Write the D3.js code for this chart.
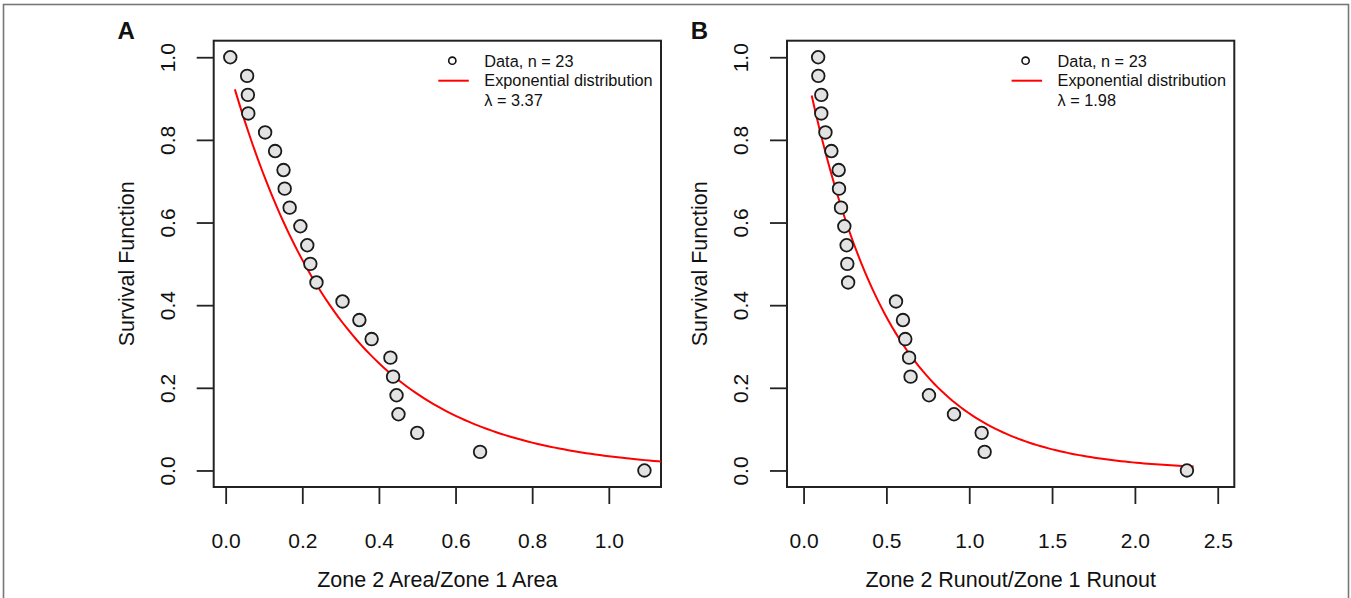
<!DOCTYPE html>
<html>
<head>
<meta charset="utf-8">
<script src="https://cdn.jsdelivr.net/npm/d3@7"></script>
<style>
  body { margin: 0; background: #fff; }
  svg text { font-family: "Liberation Sans", Arial, sans-serif; fill: #111; }
</style>
</head>
<body>
<div class="graph"></div>
<script>
// survival values shared by both panels (n = 23)
var survival = [1.000, 0.955, 0.909, 0.864, 0.818, 0.773, 0.727, 0.682, 0.636, 0.591, 0.545, 0.500,
                0.455, 0.409, 0.364, 0.318, 0.273, 0.227, 0.182, 0.136, 0.091, 0.045, 0.000];

// panel A: Zone 2 Area / Zone 1 Area
var areaRatio = [0.012, 0.056, 0.058, 0.059, 0.103, 0.129, 0.151, 0.154, 0.167, 0.195, 0.213, 0.221,
                 0.237, 0.305, 0.349, 0.381, 0.430, 0.437, 0.446, 0.451, 0.500, 0.664, 1.093];
// panel B: Zone 2 Runout / Zone 1 Runout
var runoutRatio = [0.088, 0.089, 0.107, 0.107, 0.132, 0.168, 0.212, 0.214, 0.226, 0.246, 0.260, 0.264,
                   0.269, 0.558, 0.600, 0.614, 0.637, 0.646, 0.757, 0.908, 1.075, 1.093, 2.314];

var panelLetters = ["A", "B"];
var xTitles = ["Zone 2 Area/Zone 1 Area", "Zone 2 Runout/Zone 1 Runout"];
var yTitle = "Survival Function";
var lambdas = [3.37, 1.98];
var curveFrom = [0.024, 0.049];
var curveTo = [1.2, 2.355];
var xLimits = [null, [0, 2.5]];   // null -> range of data (like R)
var xTicksA = [0, 0.2, 0.4, 0.6, 0.8, 1.0];
var xTicksB = [0, 0.5, 1.0, 1.5, 2.0, 2.5];
var yTicks = [0, 0.2, 0.4, 0.6, 0.8, 1.0];
var legendLabels = ["Data, n = 23", "Exponential distribution"];

var NS = {};
NS.width = 1351;
NS.height = 598;
// plot boxes, in pixels
NS.boxes = [
  {left: 213.7, right: 661, top: 40.7, bottom: 487},
  {left: 787, right: 1234.3, top: 40.7, bottom: 487}
];

function makeSVG() {
  NS.svg = d3.select(".graph")
        .append("svg")
        .attr("width", NS.width)
        .attr("height", NS.height);
  NS.svg.append("defs");
  // grey frame round the figure
  NS.svg.append("rect")
      .attr("x", 3.5).attr("y", 4.5)
      .attr("width", 1345).attr("height", 620)
      .attr("fill", "none")
      .attr("stroke", "#777")
      .attr("stroke-width", 1.6);
}

// R style 4% padding
function pad(dom) {
  var d = (dom[1] - dom[0]) * 0.04;
  return [dom[0] - d, dom[1] + d];
}

function drawPanel(i, xs, xTicks) {
  var box = NS.boxes[i];
  var g = NS.svg.append("g").attr("class", "panel" + i);

  var xDom = xLimits[i] ? xLimits[i] : d3.extent(xs);
  var x = d3.scaleLinear().domain(pad(xDom)).range([box.left, box.right]);
  var y = d3.scaleLinear().domain(pad([0, 1])).range([box.bottom, box.top]);

  NS.svg.select("defs").append("clipPath")
      .attr("id", "clip" + i)
    .append("rect")
      .attr("x", box.left).attr("y", box.top)
      .attr("width", box.right - box.left)
      .attr("height", box.bottom - box.top);

  // axes
  var xAxis = d3.axisBottom(x).tickValues(xTicks).tickSize(17).tickPadding(36)
      .tickFormat(d3.format(".1f"));
  var gx = g.append("g")
      .attr("transform", "translate(0," + box.bottom + ")")
      .call(xAxis);
  gx.select(".domain").remove();
  gx.selectAll("line").attr("stroke", "#222").attr("stroke-width", 1.8);
  gx.selectAll("text").attr("font-size", 21).attr("fill", "#111")
      .attr("font-family", "Liberation Sans, Arial, sans-serif")
      .attr("y", 0).attr("dy", null)
      .attr("transform", "translate(0,61)");

  var yAxis = d3.axisLeft(y).tickValues(yTicks).tickSize(17).tickFormat(d3.format(".1f"));
  var gy = g.append("g")
      .attr("transform", "translate(" + box.left + ",0)")
      .call(yAxis);
  gy.select(".domain").remove();
  gy.selectAll("line").attr("stroke", "#222").attr("stroke-width", 1.8);
  gy.selectAll("text")
      .attr("font-size", 21).attr("fill", "#111")
      .attr("font-family", "Liberation Sans, Arial, sans-serif")
      .attr("x", null).attr("dy", null)
      .attr("text-anchor", "middle")
      .attr("transform", "translate(-39,0) rotate(-90)");

  // box
  g.append("rect")
      .attr("x", box.left).attr("y", box.top)
      .attr("width", box.right - box.left)
      .attr("height", box.bottom - box.top)
      .attr("fill", "none")
      .attr("stroke", "#222")
      .attr("stroke-width", 2);

  // titles
  g.append("text")
      .attr("x", (box.left + box.right) / 2)
      .attr("y", 586.5)
      .attr("text-anchor", "middle")
      .attr("font-size", 21.5)
      .text(xTitles[i]);
  g.append("text")
      .attr("transform", "translate(" + (box.left - 80) + "," + ((box.top + box.bottom) / 2) + ") rotate(-90)")
      .attr("text-anchor", "middle")
      .attr("font-size", 21.5)
      .text(yTitle);
  g.append("text")
      .attr("x", box.left - 87.5)
      .attr("y", 39)
      .attr("text-anchor", "middle")
      .attr("font-size", 24)
      .attr("font-weight", "bold")
      .text(panelLetters[i]);

  // fitted exponential survival curve
  var lam = lambdas[i];
  var cx = d3.range(0, 101).map(function(k) {
    return curveFrom[i] + (curveTo[i] - curveFrom[i]) * k / 100;
  });
  var line = d3.line()
      .x(function(d) { return x(d); })
      .y(function(d) { return y(Math.exp(-lam * d)); });
  g.append("path")
      .datum(cx)
      .attr("clip-path", "url(#clip" + i + ")")
      .attr("d", line)
      .attr("fill", "none")
      .attr("stroke", "#ff0000")
      .attr("stroke-width", 2);

  // data points
  g.append("g").selectAll("circle")
      .data(xs)
      .enter().append("circle")
      .attr("cx", function(d) { return x(d); })
      .attr("cy", function(d, j) { return y(survival[j]); })
      .attr("r", 6.3)
      .attr("fill", "#e3e3e3")
      .attr("stroke", "#1a1a1a")
      .attr("stroke-width", 1.8);

  // legend, no box
  var lx = box.right - 176.7;
  var leg = g.append("g").attr("class", "legend");
  leg.append("circle")
      .attr("cx", lx - 32).attr("cy", 60.7).attr("r", 3.6)
      .attr("fill", "none").attr("stroke", "#111").attr("stroke-width", 1.6);
  leg.append("line")
      .attr("x1", lx - 46).attr("x2", lx - 15.5)
      .attr("y1", 80.7).attr("y2", 80.7)
      .attr("stroke", "#ff0000").attr("stroke-width", 2);
  leg.selectAll("text.lab")
      .data(legendLabels.concat(["\u03bb = " + lam.toFixed(2)]))
      .enter().append("text")
      .attr("class", "lab")
      .attr("x", lx)
      .attr("y", function(d, j) { return 66.5 + j * 19.7; })
      .attr("font-size", 16.3)
      .text(function(d) { return d; });
}

function main() {
  makeSVG();
  drawPanel(0, areaRatio, xTicksA);
  drawPanel(1, runoutRatio, xTicksB);
}

main();
</script>
</body>
</html>
